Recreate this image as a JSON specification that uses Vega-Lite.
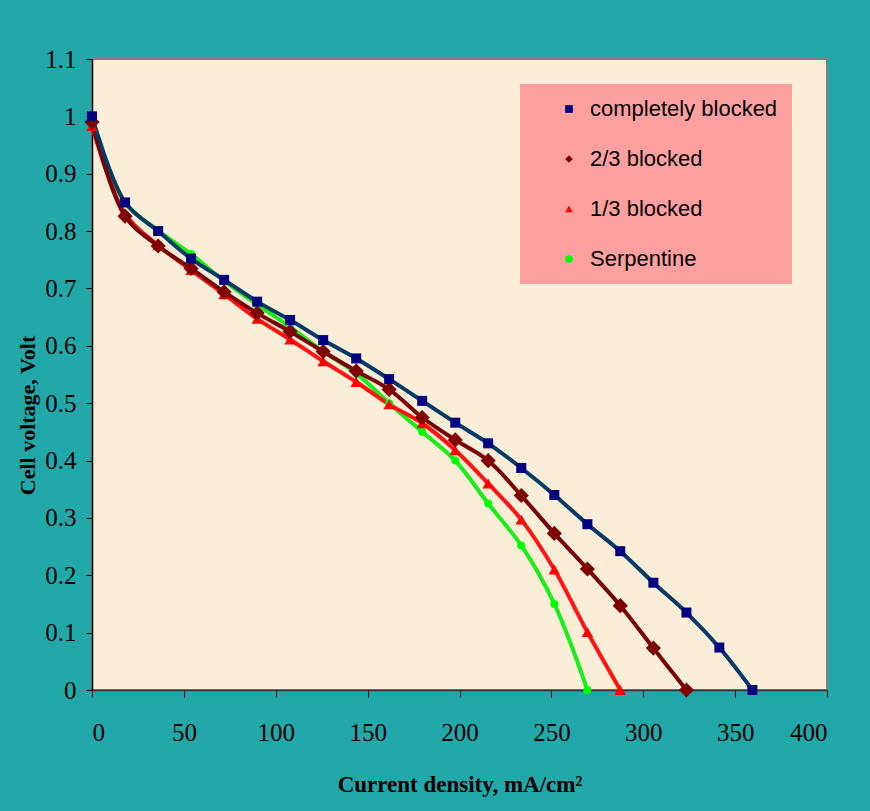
{
  "$schema": "https://vega.github.io/schema/vega-lite/v6.json",
  "autosize": "none",
  "width": 735,
  "height": 631,
  "padding": {"left": 92, "top": 59, "right": 43, "bottom": 121},
  "background": "#22A8A8",
  "config": {
    "view": {"fill": "#FBEED8", "stroke": "#808080", "strokeWidth": 2},
    "axis": {
      "labelFont": "Liberation Serif",
      "labelFontSize": 25,
      "labelColor": "#000000",
      "titleFont": "Liberation Serif",
      "titleFontWeight": "bold",
      "titleColor": "#000000",
      "domainColor": "#000000",
      "domainWidth": 1.5,
      "tickColor": "#000000",
      "grid": false
    }
  },
  "data": {
    "values": [
      {"series": "completely blocked", "x": 0, "y": 1.0},
      {"series": "completely blocked", "x": 18, "y": 0.85},
      {"series": "completely blocked", "x": 36, "y": 0.80},
      {"series": "completely blocked", "x": 53.9, "y": 0.752},
      {"series": "completely blocked", "x": 71.9, "y": 0.715},
      {"series": "completely blocked", "x": 89.9, "y": 0.677},
      {"series": "completely blocked", "x": 107.8, "y": 0.645},
      {"series": "completely blocked", "x": 125.8, "y": 0.610},
      {"series": "completely blocked", "x": 143.8, "y": 0.578},
      {"series": "completely blocked", "x": 161.7, "y": 0.542},
      {"series": "completely blocked", "x": 179.7, "y": 0.504},
      {"series": "completely blocked", "x": 197.7, "y": 0.466},
      {"series": "completely blocked", "x": 215.6, "y": 0.430},
      {"series": "completely blocked", "x": 233.6, "y": 0.387},
      {"series": "completely blocked", "x": 251.6, "y": 0.340},
      {"series": "completely blocked", "x": 269.6, "y": 0.289},
      {"series": "completely blocked", "x": 287.5, "y": 0.242},
      {"series": "completely blocked", "x": 305.5, "y": 0.187},
      {"series": "completely blocked", "x": 323.5, "y": 0.135},
      {"series": "completely blocked", "x": 341.4, "y": 0.074},
      {"series": "completely blocked", "x": 359.4, "y": 0.0},
      {"series": "2/3 blocked", "x": 0, "y": 0.99},
      {"series": "2/3 blocked", "x": 18, "y": 0.826},
      {"series": "2/3 blocked", "x": 36, "y": 0.774},
      {"series": "2/3 blocked", "x": 53.9, "y": 0.735},
      {"series": "2/3 blocked", "x": 71.9, "y": 0.694},
      {"series": "2/3 blocked", "x": 89.9, "y": 0.657},
      {"series": "2/3 blocked", "x": 107.8, "y": 0.625},
      {"series": "2/3 blocked", "x": 125.8, "y": 0.590},
      {"series": "2/3 blocked", "x": 143.8, "y": 0.556},
      {"series": "2/3 blocked", "x": 161.7, "y": 0.524},
      {"series": "2/3 blocked", "x": 179.7, "y": 0.475},
      {"series": "2/3 blocked", "x": 197.7, "y": 0.436},
      {"series": "2/3 blocked", "x": 215.6, "y": 0.400},
      {"series": "2/3 blocked", "x": 233.6, "y": 0.339},
      {"series": "2/3 blocked", "x": 251.6, "y": 0.273},
      {"series": "2/3 blocked", "x": 269.6, "y": 0.211},
      {"series": "2/3 blocked", "x": 287.5, "y": 0.147},
      {"series": "2/3 blocked", "x": 305.5, "y": 0.073},
      {"series": "2/3 blocked", "x": 323.5, "y": 0.0},
      {"series": "1/3 blocked", "x": 0, "y": 0.983},
      {"series": "1/3 blocked", "x": 18, "y": 0.83},
      {"series": "1/3 blocked", "x": 36, "y": 0.775},
      {"series": "1/3 blocked", "x": 53.9, "y": 0.732},
      {"series": "1/3 blocked", "x": 71.9, "y": 0.69},
      {"series": "1/3 blocked", "x": 89.9, "y": 0.647},
      {"series": "1/3 blocked", "x": 107.8, "y": 0.611},
      {"series": "1/3 blocked", "x": 125.8, "y": 0.573},
      {"series": "1/3 blocked", "x": 143.8, "y": 0.537},
      {"series": "1/3 blocked", "x": 161.7, "y": 0.498},
      {"series": "1/3 blocked", "x": 179.7, "y": 0.465},
      {"series": "1/3 blocked", "x": 197.7, "y": 0.418},
      {"series": "1/3 blocked", "x": 215.6, "y": 0.360},
      {"series": "1/3 blocked", "x": 233.6, "y": 0.297},
      {"series": "1/3 blocked", "x": 251.6, "y": 0.210},
      {"series": "1/3 blocked", "x": 269.6, "y": 0.101},
      {"series": "1/3 blocked", "x": 287.5, "y": 0.0},
      {"series": "Serpentine", "x": 0, "y": 0.992},
      {"series": "Serpentine", "x": 18, "y": 0.850},
      {"series": "Serpentine", "x": 36, "y": 0.801},
      {"series": "Serpentine", "x": 53.9, "y": 0.760},
      {"series": "Serpentine", "x": 71.9, "y": 0.713},
      {"series": "Serpentine", "x": 89.9, "y": 0.672},
      {"series": "Serpentine", "x": 107.8, "y": 0.633},
      {"series": "Serpentine", "x": 125.8, "y": 0.590},
      {"series": "Serpentine", "x": 143.8, "y": 0.552},
      {"series": "Serpentine", "x": 161.7, "y": 0.500},
      {"series": "Serpentine", "x": 179.7, "y": 0.450},
      {"series": "Serpentine", "x": 197.7, "y": 0.400},
      {"series": "Serpentine", "x": 215.6, "y": 0.325},
      {"series": "Serpentine", "x": 233.6, "y": 0.252},
      {"series": "Serpentine", "x": 251.6, "y": 0.150},
      {"series": "Serpentine", "x": 269.6, "y": 0.0}
    ]
  },
  "encoding": {
    "x": {
      "field": "x",
      "type": "quantitative",
      "scale": {"domain": [0, 400], "nice": false},
      "axis": {
        "values": [0, 50, 100, 150, 200, 250, 300, 350, 400],
        "title": "Current density, mA/cm²",
        "titleFontSize": 23,
        "titlePadding": 28,
        "tickSize": 7,
        "labelPadding": 23,
        "domainColor": "#333333"
      }
    },
    "y": {
      "field": "y",
      "type": "quantitative",
      "scale": {"domain": [0, 1.1], "nice": false},
      "axis": {
        "values": [0, 0.1, 0.2, 0.3, 0.4, 0.5, 0.6, 0.7, 0.8, 0.9, 1, 1.1],
        "format": ".1~f",
        "title": "Cell voltage, Volt",
        "titleFontSize": 22,
        "titlePadding": 5,
        "titleY": 356,
        "tickSize": 6,
        "labelPadding": 10
      }
    }
  },
  "layer": [
    {
      "transform": [{"filter": "datum.series === 'Serpentine'"}],
      "mark": {"type": "line", "interpolate": "catmull-rom", "strokeWidth": 4, "color": "#18EE18"},
      "encoding": {"order": {"field": "x", "type": "quantitative"}}
    },
    {
      "transform": [{"filter": "datum.series === '1/3 blocked'"}],
      "mark": {"type": "line", "interpolate": "catmull-rom", "strokeWidth": 4, "color": "#FF1414"},
      "encoding": {"order": {"field": "x", "type": "quantitative"}}
    },
    {
      "transform": [{"filter": "datum.series === '2/3 blocked'"}],
      "mark": {"type": "line", "interpolate": "catmull-rom", "strokeWidth": 4, "color": "#7A0000"},
      "encoding": {"order": {"field": "x", "type": "quantitative"}}
    },
    {
      "transform": [{"filter": "datum.series === 'completely blocked'"}],
      "mark": {"type": "line", "interpolate": "catmull-rom", "strokeWidth": 4, "color": "#063A66"},
      "encoding": {"order": {"field": "x", "type": "quantitative"}}
    },
    {
      "encoding": {
        "color": {
          "field": "series",
          "type": "nominal",
          "scale": {
            "domain": ["completely blocked", "2/3 blocked", "1/3 blocked", "Serpentine"],
            "range": ["#000080", "#800000", "#FF0000", "#00FF00"]
          },
          "legend": {
            "title": null,
            "orient": "none",
            "legendX": 428,
            "legendY": 25,
            "padding": 14,
            "fillColor": "#FFA0A0",
            "labelFont": "Liberation Sans",
            "labelFontSize": 22,
            "labelColor": "#000000",
            "labelLimit": 400,
            "symbolSize": 60,
            "symbolOffset": 24,
            "labelOffset": 10,
            "rowPadding": 28
          }
        },
        "shape": {
          "field": "series",
          "type": "nominal",
          "scale": {
            "domain": ["completely blocked", "2/3 blocked", "1/3 blocked", "Serpentine"],
            "range": ["square", "diamond", "triangle-up", "circle"]
          },
          "legend": {
            "title": null,
            "orient": "none",
            "legendX": 428,
            "legendY": 25,
            "padding": 14,
            "fillColor": "#FFA0A0",
            "labelFont": "Liberation Sans",
            "labelFontSize": 22,
            "labelColor": "#000000",
            "labelLimit": 400,
            "symbolSize": 60,
            "symbolOffset": 24,
            "labelOffset": 10,
            "rowPadding": 28
          }
        }
      },
      "layer": [
        {
          "transform": [{"filter": "datum.series === 'Serpentine'"}],
          "mark": {"type": "point", "filled": true, "opacity": 1, "size": 65}
        },
        {
          "transform": [{"filter": "datum.series === '1/3 blocked'"}],
          "mark": {"type": "point", "filled": true, "opacity": 1, "size": 130}
        },
        {
          "transform": [{"filter": "datum.series === '2/3 blocked'"}],
          "mark": {"type": "point", "filled": true, "opacity": 1, "size": 230}
        },
        {
          "transform": [{"filter": "datum.series === 'completely blocked'"}],
          "mark": {"type": "point", "filled": true, "opacity": 1, "size": 100}
        }
      ]
    }
  ]
}
